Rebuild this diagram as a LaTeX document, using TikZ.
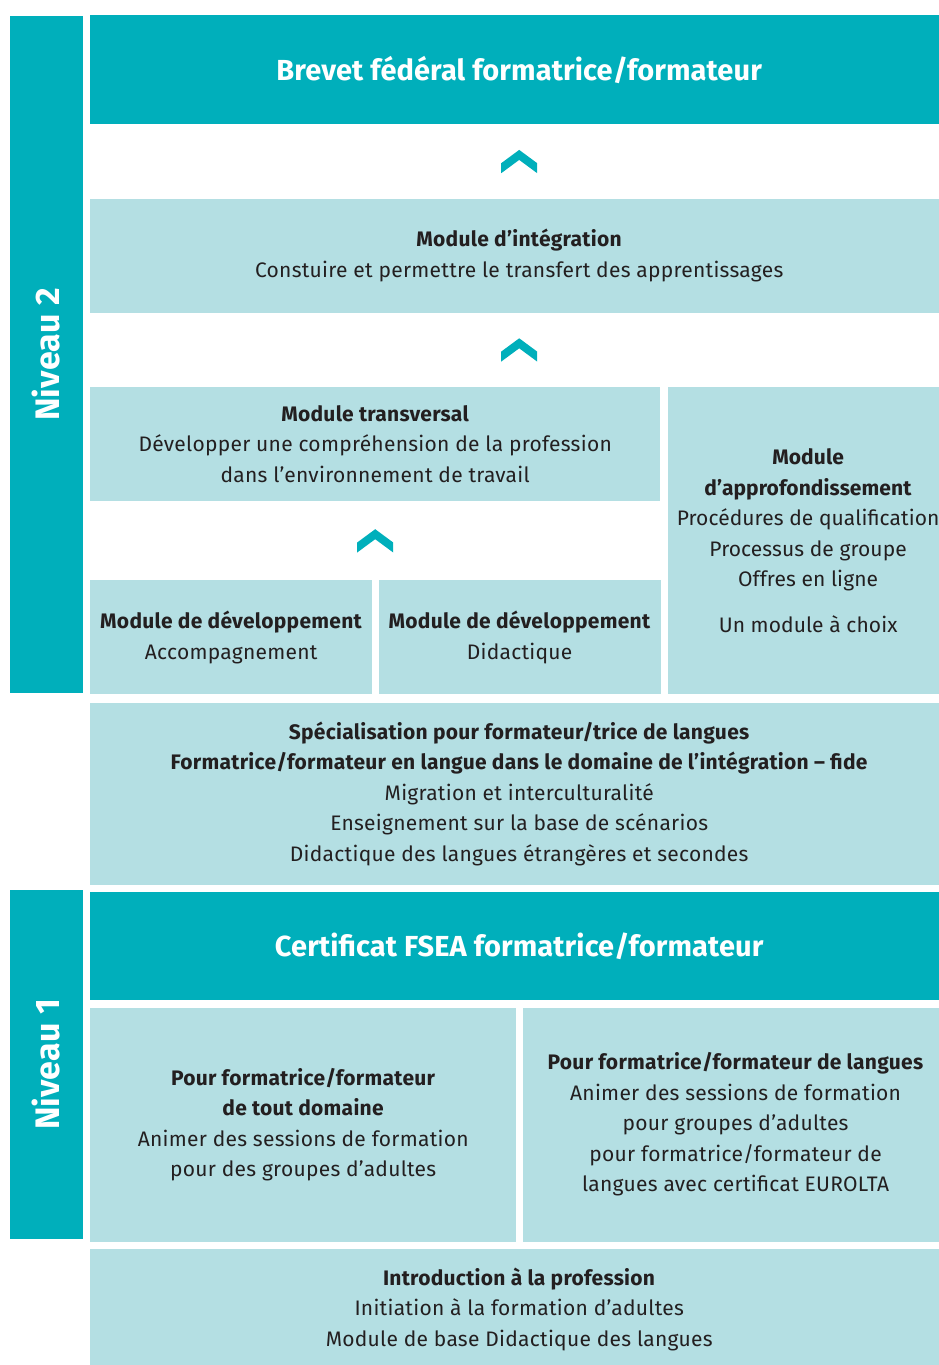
\documentclass[tikz,border=0pt]{standalone}
\usepackage{fontspec}
\setmainfont{Fira Sans}[LetterSpace=1.3]
\usepackage{xcolor}
\usepackage{tikz}
\usetikzlibrary{positioning,calc}
\definecolor{fsea}{RGB}{0,175,187}
\definecolor{fsel}{RGB}{180,223,227}
\definecolor{fsetx}{RGB}{35,31,32}
\newcommand{\cdark}{fsea}
\newcommand{\clight}{fsel}
\tikzset{
	every node/.style = { align=center, inner sep=0pt, anchor=north west, text=fsetx, font=\fontsize{21}{30.5}\selectfont },
	bar/.style = { fill=\cdark, rotate=90, anchor=center, minimum height=73pt, text=white, font=\fontsize{34}{40}\selectfont\bfseries\addfontfeature{LetterSpace=0.5} },
	head/.style = { fill=\cdark, minimum width=858pt, text=white, font=\fontsize{29}{36}\selectfont\bfseries\addfontfeature{LetterSpace=0.4} },
	mod/.style = { fill=\clight, minimum width=858pt, minimum height=114pt },
	tight/.style = { font=\fontsize{21}{30.5}\selectfont\addfontfeature{LetterSpace=0.4} },
	chev/.pic = { \fill[\cdark] (0,-11.5) -- (18,1.8) -- (18,11.8) -- (0,-1.5) -- (-18,11.8) -- (-18,1.8) -- cycle; },
}

\begin{document}
\begin{tikzpicture}[x=1pt,y=-1pt]
\useasboundingbox (0,0) rectangle (939,1365);
\clip (0,0) rectangle (939,1365);

% Niveau 2
\node (niv2)   [bar,minimum width=677pt] at (46.5,354.5) {Niveau 2};
\node (brevet) [head,minimum height=109pt] at (90,15) {Brevet fédéral formatrice/formateur};
\node (integ)  [mod,below=74pt of brevet.south west,anchor=north west]
	{\textbf{Module d’intégration}\\Constuire et permettre le transfert des apprentissages};
\node (transv) [mod,minimum width=570pt,below=74pt of integ.south west,anchor=north west]
	{\textbf{Module transversal}\\Développer une compréhension de la profession\\dans l'environnement de travail};
\node (approf) [mod,tight,minimum width=281pt,minimum height=307pt,right=7pt of transv.north east,anchor=north west]
	{\textbf{Module}\\\textbf{d’approfondissement}\\Procédures de qualification\\Processus de groupe\\Offres en ligne\\[15pt]Un module à choix};
\node (devacc) [mod,minimum width=282pt,below=79pt of transv.south west,anchor=north west]
	{\textbf{Module de développement}\\Accompagnement};
\node (devdid) [mod,minimum width=282pt,right=6pt of devacc]
	{\textbf{Module de développement}\\Didactique};
\node (spec)   [mod,minimum height=182pt,below=8pt of devacc.south west,anchor=north west]
	{\textbf{Spécialisation pour formateur/trice de langues}\\\textbf{Formatrice/formateur en langue dans le domaine de l’intégration – fide}\\Migration et interculturalité\\Enseignement sur la base de scénarios\\Didactique des langues étrangères et secondes};

\pic at ($(brevet.south)!.5!(integ.north)$) {chev};
\pic at ($(integ.south)!.5!(integ.south|-transv.north)$) {chev};
\pic at ($(transv.south)!.5!(transv.south|-devacc.north)$) {chev};

% Niveau 1
\node (niv1)   [bar,minimum width=349pt] at (46.5,1064.5) {Niveau 1};
\node (cert)   [head,minimum height=108pt,below=7pt of spec.south west,anchor=north west] {Certificat FSEA formatrice/formateur};
\node (tout)   [mod,minimum width=426pt,minimum height=234pt,below=7pt of cert.south west,anchor=north west]
	{\textbf{Pour formatrice/formateur}\\\textbf{de tout domaine}\\Animer des sessions de formation\\pour des groupes d’adultes};
\node (lang)   [mod,minimum width=426pt,minimum height=234pt,right=6pt of tout]
	{\textbf{Pour formatrice/formateur de langues}\\Animer des sessions de formation\\pour groupes d’adultes\\pour formatrice/formateur de\\langues avec certificat EUROLTA};
\node (intro)  [mod,minimum height=120pt,below=7pt of tout.south west,anchor=north west]
	{\textbf{Introduction à la profession}\\Initiation à la formation d’adultes\\Module de base Didactique des langues};

\end{tikzpicture}
\end{document}
